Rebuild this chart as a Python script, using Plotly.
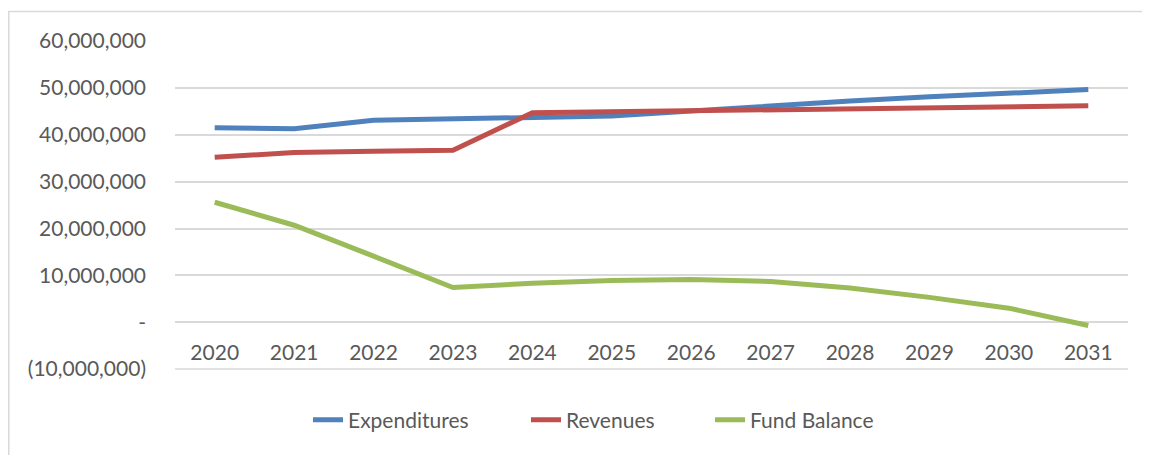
import plotly.graph_objects as go

years = ["2020", "2021", "2022", "2023", "2024", "2025", "2026", "2027", "2028", "2029", "2030", "2031"]
expenditures = [41.5e6, 41.3e6, 43.1e6, 43.4e6, 43.8e6, 44.0e6, 45.1e6, 46.2e6, 47.2e6, 48.1e6, 48.9e6, 49.65e6]
revenues = [35.2e6, 36.2e6, 36.5e6, 36.7e6, 44.7e6, 44.9e6, 45.1e6, 45.4e6, 45.6e6, 45.8e6, 46.0e6, 46.2e6]
fund_balance = [25.6e6, 20.7e6, 14.1e6, 7.4e6, 8.3e6, 8.9e6, 9.1e6, 8.7e6, 7.3e6, 5.3e6, 3.0e6, -0.7e6]

y_tick_vals = [-10e6, 0, 10e6, 20e6, 30e6, 40e6, 50e6, 60e6]
y_tick_text = ["(10,000,000)", "-", "10,000,000", "20,000,000", "30,000,000", "40,000,000", "50,000,000", "60,000,000"]

series = [
    ("Expenditures", expenditures, "#4F81BD"),
    ("Revenues", revenues, "#C0504D"),
    ("Fund Balance", fund_balance, "#9BBB59"),
]

# page has an 8px body margin; figure coordinates = page coordinates - 8
W, H = 1150, 455
ml, mt = 167, 33
plot_right, plot_bottom = 1120, 362
mr, mb = W - plot_right, H - plot_bottom
pw, ph = plot_right - ml, plot_bottom - mt
ymin, ymax = -10.2e6, 60.02e6

fig = go.Figure()
legend_names = ["legend", "legend2", "legend3"]
legend_text_start = [348, 566, 750]  # page px of legend text starts
font = dict(family="Lato, Open Sans, sans-serif", size=21, color="#595959")
leg_y = (361 - 411) / ph

layout_legends = {}
for (name, vals, color), lg, tx in zip(series, legend_names, legend_text_start):
    fig.add_trace(go.Scatter(x=years, y=vals, mode="lines", name=name, legend=lg,
                             line=dict(color=color, width=5)))
    layout_legends[lg] = dict(orientation="h", x=(tx - 8 - 40 - ml) / pw, xanchor="left",
                              y=leg_y, yanchor="middle", font=font,
                              bgcolor="rgba(0,0,0,0)")

x_axis_pos = (0 - ymin) / (ymax - ymin)

fig.update_layout(
    width=W, height=H,
    margin=dict(l=ml, r=mr, t=mt, b=mb, autoexpand=False),
    paper_bgcolor="white", plot_bgcolor="white",
    font=font,
    showlegend=True,
    xaxis=dict(type="category", range=[-0.5, len(years) - 0.5],
               showgrid=False, showline=False, zeroline=False,
               ticks="", anchor="free", position=x_axis_pos, ticklabelstandoff=16,
               tickfont=font),
    yaxis=dict(range=[ymin, ymax], tickvals=y_tick_vals, ticktext=y_tick_text,
               showgrid=True, gridcolor="#d9d9d9", gridwidth=1.5, zeroline=False,
               showline=False, ticks="", ticklabelstandoff=28, tickfont=font),
    **layout_legends,
)

# bottom gridline (plotly omits it at the axis edge)
fig.add_shape(type="line", xref="paper", yref="y", x0=0, x1=1,
              y0=y_tick_vals[0], y1=y_tick_vals[0],
              line=dict(color="#d9d9d9", width=1.5), layer="below")

fig.add_shape(type="rect", xref="paper", yref="paper",
              x0=(0.8 - ml) / pw, x1=(W + 20 - ml) / pw,
              y0=-(H + 20 - plot_bottom) / ph, y1=1 + (mt - 3.5) / ph,
              line=dict(color="#d9d9d9", width=1.5), fillcolor="rgba(0,0,0,0)", layer="below")

fig.write_html("out.html")
